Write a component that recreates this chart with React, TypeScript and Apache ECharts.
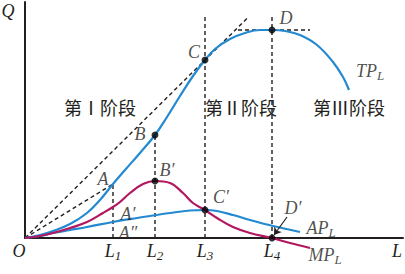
import React, { useEffect, useRef } from 'react';
import * as echarts from 'echarts';

// Curves (L, Q)
const tpCurve: number[][] = [[0,0],[15,3],[28,7],[45,14],[62,25],[75,38],[88,54],[100,68],[115,85],[130,103],[142,121],[155,142],[168,162],[180,178],[190,189],[205,199],[220,205],[235,208],[247,208],[260,207],[275,203],[292,193],[308,176],[318,161],[324,148]];
const apCurve: number[][] = [[0,0],[15,2],[28,5],[45,8],[62,11],[88,16],[112,20],[125,22],[145,25],[165,27.5],[180,28],[192,27],[208,23],[225,18],[248,12],[275,6]];
const mpCurve: number[][] = [[0,0],[15,2],[28,5],[45,10],[62,16],[78,25],[88,31],[95,36],[105,45],[118,54],[130,57],[145,55],[158,45],[168,35],[180,28],[192,20],[208,11],[225,5],[247,0],[265,-5],[285,-10]];

// Ticks on the L axis
const lTicks = [88, 130, 180, 247];
const lTickSubs = ['1', '2', '3', '4'];

// Key points
const pointNames = ['A', 'B', 'C', 'D', 'A′', 'A″', 'B′', 'C′', 'D′'];
const pointL = [88, 130, 180, 247, 88, 88, 130, 180, 247];
const pointQ = [54, 103, 178, 208, 31, 16, 57, 28, 0];
const pointDot = [false, true, true, true, false, false, true, true, true];

// Guide lines
const guideTop = 224;
const rayEndL = 222;
const tangentStartL = 213;
const tangentEndL = 285;

const stageNames = ['第Ⅰ阶段', '第Ⅱ阶段', '第Ⅲ阶段'];

const INK = '#231f20';
const BLUE = '#2389d0';
const RED = '#b3175f';
const SERIF = "'Liberation Serif', 'DejaVu Serif', serif";
const CJK = "'Noto Sans CJK SC', sans-serif";

const labelOffsets: Record<string, number[]> = {
  'A': [-10, -5], 'B': [-15, -1], 'C': [-11, -8], 'D': [14, -12],
  'A′': [15, 7], 'A″': [15, 11], 'B′': [12, -11], 'C′': [16, -13], 'D′': [21, -30],
};

const rich = {
  m: { fontFamily: SERIF, fontStyle: 'italic', fontSize: 18, color: INK, lineHeight: 20, verticalAlign: 'top' },
  s: { fontFamily: SERIF, fontStyle: 'italic', fontSize: 13, color: INK, lineHeight: 20, verticalAlign: 'bottom' },
};

function buildOption() {
  const dash = { type: [4, 3], color: INK, width: 1.4 };
  const guide = (data: number[][]) => ({
    type: 'line', data, symbol: 'none', silent: true, lineStyle: dash, clip: false, z: 1,
  });
  const C = [pointL[2], pointQ[2]];
  const A = [pointL[0], pointQ[0]];
  const D = [pointL[3], pointQ[3]];
  const rayScale = rayEndL / C[0];
  const curve = (data: number[][], color: string) => ({
    type: 'line', data, symbol: 'none', smooth: 0.4, clip: false, z: 3,
    lineStyle: { color, width: 2.2 },
  });
  const curveLabel = (end: number[], text: string, offset: number[]) => ({
    value: end, label: { show: true, position: 'inside', offset, formatter: text, rich, align: 'center', verticalAlign: 'middle' },
  });
  return {
    animation: false,
    backgroundColor: '#ffffff',
    grid: { left: 25, right: 2, top: 2, bottom: 36 },
    xAxis: {
      type: 'value', min: 0, max: 378,
      axisLine: { show: true, onZero: true, lineStyle: { color: INK, width: 2 } },
      axisTick: { show: false },
      splitLine: { show: false },
      axisLabel: {
        customValues: lTicks,
        margin: 4,
        formatter: (v: number) => `{m|L}{s|${lTickSubs[lTicks.indexOf(v)]}}`,
        rich,
      },
    },
    yAxis: {
      type: 'value', min: 0, max: 236,
      axisLine: { show: true, onZero: true, lineStyle: { color: INK, width: 2 } },
      axisTick: { show: false },
      axisLabel: { show: false },
      splitLine: { show: false },
    },
    graphic: [
      { type: 'text', x: 8, y: 11, style: { text: 'Q', font: `italic 18px ${SERIF}`, fill: INK, align: 'center', verticalAlign: 'middle' } },
      { type: 'text', x: 19, y: 251, style: { text: 'O', font: `italic 18px ${SERIF}`, fill: INK, align: 'center', verticalAlign: 'middle' } },
      { type: 'text', x: 397, y: 251, style: { text: 'L', font: `italic 18px ${SERIF}`, fill: INK, align: 'center', verticalAlign: 'middle' } },
      { type: 'text', x: 100, y: 107, style: { text: stageNames[0], font: `18px ${CJK}`, fill: INK, align: 'center', verticalAlign: 'middle' } },
      { type: 'text', x: 241, y: 107, style: { text: stageNames[1], font: `18px ${CJK}`, fill: INK, align: 'center', verticalAlign: 'middle' } },
      { type: 'text', x: 349, y: 107, style: { text: stageNames[2], font: `18px ${CJK}`, fill: INK, align: 'center', verticalAlign: 'middle' } },
    ],
    series: [
      guide([[0, 0], [C[0] * rayScale, C[1] * rayScale]]),
      guide([[0, 0], A]),
      guide([[tangentStartL, D[1]], [tangentEndL, D[1]]]),
      guide([[lTicks[0], 0], [lTicks[0], pointQ[0]]]),
      guide([[lTicks[1], 0], [lTicks[1], pointQ[1]]]),
      guide([[lTicks[2], 0], [lTicks[2], guideTop]]),
      guide([[lTicks[3], 0], [lTicks[3], guideTop]]),
      curve(tpCurve, BLUE),
      curve(apCurve, BLUE),
      curve(mpCurve, RED),
      {
        type: 'lines', coordinateSystem: 'cartesian2d', z: 5, silent: true,
        symbol: ['none', 'arrow'], symbolSize: 7,
        lineStyle: { color: INK, width: 1.2, opacity: 1 },
        data: [{ coords: [[pointL[8] + 15, pointQ[8] + 21], [pointL[8] + 2, pointQ[8] + 3]] }],
      },
      {
        type: 'scatter', z: 6, silent: true, clip: false,
        symbol: 'circle', symbolSize: 7, itemStyle: { color: '#000' },
        data: pointNames.map((n, i) => pointDot[i] ? [pointL[i], pointQ[i]] : null).filter(Boolean),
      },
      {
        type: 'scatter', z: 7, silent: true, clip: false, symbolSize: 0,
        data: pointNames.map((n, i) => ({
          value: [pointL[i], pointQ[i]],
          label: {
            show: true, position: 'inside', offset: labelOffsets[n], formatter: n,
            fontFamily: SERIF, fontStyle: 'italic', fontSize: 18, lineHeight: 16, color: INK,
            align: 'center', verticalAlign: 'middle',
          },
        })),
      },
      {
        type: 'scatter', z: 7, silent: true, clip: false, symbolSize: 0,
        data: [
          curveLabel(tpCurve[tpCurve.length - 1], '{m|TP}{s|L}', [21, -18]),
          curveLabel(apCurve[apCurve.length - 1], '{m|AP}{s|L}', [21, -3]),
          curveLabel(mpCurve[mpCurve.length - 1], '{m|MP}{s|L}', [15, 8]),
        ],
      },
    ],
  };
}

export default function App() {
  const ref = useRef<HTMLDivElement>(null);
  useEffect(() => {
    const chart = echarts.init(ref.current!, null, { renderer: 'svg' });
    chart.setOption(buildOption() as any);
    return () => chart.dispose();
  }, []);
  return <div ref={ref} style={{ position: 'absolute', left: 0, top: 0, width: 405, height: 274 }} />;
}
